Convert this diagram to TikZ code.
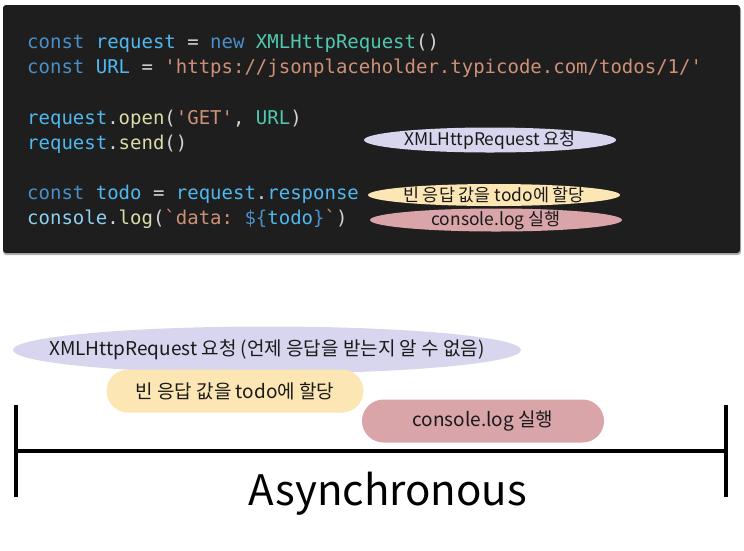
\documentclass[tikz,border=0pt]{standalone}
\usepackage{fontspec}
\setmonofont{DejaVu Sans Mono}
\newfontfamily\kofont{Noto Sans CJK KR}
\usetikzlibrary{shapes,positioning}

\definecolor{codebg}{HTML}{1E1E1E}
\definecolor{kwblue}{HTML}{4A8FCB}
\definecolor{varblue}{HTML}{4FB8EE}
\definecolor{lightvar}{HTML}{8ED0F2}
\definecolor{typegreen}{HTML}{4EC9B0}
\definecolor{strorange}{HTML}{CE9178}
\definecolor{fnyellow}{HTML}{DCDCAA}
\definecolor{punct}{HTML}{D4D4D4}
\definecolor{reqfill}{HTML}{D7D6EE}
\definecolor{todofill}{HTML}{FCE6B4}
\definecolor{logfill}{HTML}{D9A5A8}
\definecolor{tagtext}{HTML}{1A1A1A}

\newcommand{\kw}[1]{\textcolor{kwblue}{#1}}
\newcommand{\vr}[1]{\textcolor{varblue}{#1}}
\newcommand{\lv}[1]{\textcolor{lightvar}{#1}}
\newcommand{\cls}[1]{\textcolor{typegreen}{#1}}
\newcommand{\strg}[1]{\textcolor{strorange}{#1}}
\newcommand{\fn}[1]{\textcolor{fnyellow}{#1}}
\newcommand{\op}[1]{\textcolor{punct}{#1}}
\newcommand{\sq}{\symbol{39}}
\newcommand{\bq}{\symbol{96}}

\begin{document}
\begin{tikzpicture}[x=1pt,y=-1pt,
    codeline/.style={anchor=base west, inner sep=0pt, font=\ttfamily\fontsize{19}{19}\selectfont},
    smalltag/.style={ellipse, inner sep=0pt, minimum width=252, minimum height=25,
        label={[text=tagtext, font=\kofont\fontsize{17.4}{17.4}\selectfont]center:#1}},
    bigtag/.style={ellipse, inner sep=0pt, minimum height=47,
        label={[text=tagtext, font=\kofont\fontsize{19}{19}\selectfont]center:#1}},
    bigpill/.style={rectangle, rounded corners=21.5, inner sep=0pt, minimum height=43,
        label={[text=tagtext, font=\kofont\fontsize{19}{19}\selectfont]center:#1}}]
    \useasboundingbox (0,0) rectangle (744,550);

    % code block
    \fill[black!30, rounded corners=3] (3,7) rectangle (741,255);
    \fill[codebg, rounded corners=3] (3,5) rectangle (740,253);
    \node[codeline] (line1) at (27,48) {\kw{const} \vr{request} \op{=} \kw{new} \cls{XMLHttpRequest}\op{()}};
    \node[codeline] (line2) at (27,73) {\kw{const} \vr{URL} \op{=} \strg{\sq https://jsonplaceholder.typicode.com/todos/1/\sq}};
    \node[codeline] (line3) at (27,124) {\vr{request}\op{.}\fn{open}\op{(}\strg{\sq GET\sq}\op{, }\cls{URL}\op{)}};
    \node[codeline] (line4) at (27,149) {\vr{request}\op{.}\fn{send}\op{()}};
    \node[codeline] (line5) at (27,199) {\kw{const} \vr{todo} \op{=} \vr{request}\op{.}\vr{response}};
    \node[codeline] (line6) at (27,224) {\lv{console}\op{.}\fn{log}\op{(}\strg{\bq data: }\kw{\$\{}\vr{todo}\kw{\}}\strg{\bq}\op{)}};

    % labels next to the code
    \node[smalltag={XMLHttpRequest 요청}, fill=reqfill] (sendtag) at (490,140) {};
    \node[smalltag={빈 응답 값을 todo에 할당}, fill=todofill, minimum height=22] (todotag) at (494,195) {};
    \node[smalltag={console.log 실행}, fill=logfill, minimum height=23] (logtag) at (496,220) {};

    % timeline
    \node[bigtag={XMLHttpRequest 요청 (언제 응답을 받는지 알 수 없음)}, fill=reqfill, minimum width=508] (request) at (267,350) {};
    \node[bigpill={빈 응답 값을 todo에 할당}, fill=todofill, minimum width=257] (assign) at (235,391) {};
    \node[bigpill={console.log 실행}, fill=logfill, minimum width=242] (log) at (483,421) {};

    \coordinate (start) at (16,451);
    \coordinate (end) at (726,451);
    \draw[line width=4pt] (start) -- (end);
    \draw[line width=4pt] (16,405) -- (16,497);
    \draw[line width=4pt] (726,405) -- (726,497);
    \node[anchor=base, inner sep=0pt, font=\kofont\fontsize{42}{42}\selectfont] (async) at (388,505) {Asynchronous};
\end{tikzpicture}
\end{document}
